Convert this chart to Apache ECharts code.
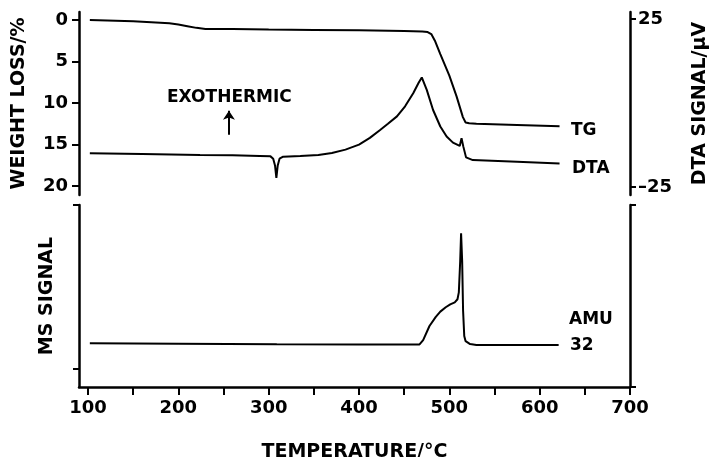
<!DOCTYPE html>
<html>
<head>
<meta charset="utf-8">
<script src="https://cdn.jsdelivr.net/npm/echarts@6/dist/echarts.min.js"></script>
<style>html,body{margin:0;padding:0;background:#fff}#c{width:712px;height:457px}</style>
</head>
<body>
<div id="c"></div>
<script>
// ---- data ----
const tgTemp = [102,150,190,200,210,220,230,260,300,350,400,450,470,476,480,484,490,500,508,515,518,522,530,575,622];
const tgLoss = [0,0.15,0.4,0.55,0.75,0.95,1.08,1.1,1.15,1.2,1.25,1.32,1.38,1.45,1.7,2.5,4.1,6.7,9.2,11.7,12.35,12.45,12.5,12.65,12.8];

const dtaTemp = [102,160,224,260,290,302,305,307,308.5,310,312,316,335,355,370,385,400,412,423,432,442,451,460,466,469.5,475,482,490,497,504,511.5,513.5,515.5,518.5,526,575,622];
const dtaSignal = [-15.0,-15.2,-15.5,-15.6,-15.8,-15.9,-16.6,-18.6,-22.3,-18.6,-16.6,-16.0,-15.8,-15.5,-14.9,-13.9,-12.4,-10.4,-8.1,-6.2,-4.0,-1.0,2.9,6.0,7.6,3.9,-2.1,-7.0,-10.0,-11.8,-12.8,-10.5,-13.0,-16.2,-17.0,-17.5,-18.0];

const msTemp = [102,200,309,400,467,471,478,485,490,496,501,506,509,510.5,512,513,514.2,515.2,516.5,518,523,530,575,621];
const msSignal = [24.0,23.8,23.5,23.4,23.4,25.8,33.5,38.5,41.4,43.8,45.4,46.5,48.2,52,69,84.4,69,42,28,25.2,23.6,23.1,23.1,23.1];

const xTickValues = [100,150,200,250,300,350,400,450,500,550,600,650,700];
const xLabelValues = [100,200,300,400,500,600,700];
const tgTickValues = [0,5,10,15,20];
const dtaTickValues = [25,-25];
const msTickValues = [10,100];

const pairs = (xs, ys) => xs.map((x, i) => [x, ys[i]]);

const FONT = 'DejaVu Sans';
const black = '#000';
const axisLineStyle = { color: black, width: 2.5 };
const tickLine = { color: black, width: 2 };
const labelStyle = { color: black, fontFamily: FONT, fontWeight: 'bold', fontSize: 18 };
const nameStyle = { color: black, fontFamily: FONT, fontWeight: 'bold', fontSize: 19 };
const annFont = 'bold 17px "DejaVu Sans"';

const chart = echarts.init(document.getElementById('c'), null, { renderer: 'canvas' });
chart.setOption({
  animation: false,
  backgroundColor: '#fff',
  grid: [
    { left: 79, width: 551, top: 12, height: 183, containLabel: false, outerBoundsMode: 'none' },
    { left: 79, width: 551, top: 205, height: 182, containLabel: false, outerBoundsMode: 'none' }
  ],
  xAxis: [
    { gridIndex: 0, type: 'value', min: 90, max: 700, show: false },
    {
      gridIndex: 1, type: 'value', min: 90, max: 700,
      axisLine: { lineStyle: axisLineStyle },
      axisTick: { customValues: xTickValues, length: 8, inside: false, lineStyle: tickLine },
      axisLabel: { customValues: xLabelValues, margin: 12, ...labelStyle },
      splitLine: { show: false },
      name: 'TEMPERATURE/°C', nameLocation: 'middle', nameGap: 56, nameTextStyle: nameStyle
    }
  ],
  yAxis: [
    {
      gridIndex: 0, type: 'value', position: 'left', inverse: true, min: -0.96, max: 21.08,
      axisLine: { show: true, lineStyle: axisLineStyle },
      axisTick: { show: true, customValues: tgTickValues, length: 7, lineStyle: tickLine },
      axisLabel: { customValues: tgTickValues, margin: 11, ...labelStyle },
      splitLine: { show: false },
      name: 'WEIGHT LOSS/%', nameLocation: 'middle', nameRotate: 90, nameGap: 50, nameTextStyle: nameStyle
    },
    {
      gridIndex: 0, type: 'value', position: 'right', min: -27.4, max: 27.08,
      axisLine: { show: true, lineStyle: axisLineStyle },
      axisTick: { show: true, customValues: dtaTickValues, length: 6, lineStyle: tickLine },
      axisLabel: { customValues: dtaTickValues, margin: 8, ...labelStyle,
        formatter: v => (v < 0 ? '\u2013' + Math.abs(v) : String(v)) },
      splitLine: { show: false },
      name: 'DTA SIGNAL/\u00b5V', nameLocation: 'middle', nameRotate: 90, nameGap: 61, nameTextStyle: nameStyle
    },
    {
      gridIndex: 1, type: 'value', position: 'left', min: 0, max: 100,
      axisLine: { show: true, lineStyle: axisLineStyle },
      axisTick: { show: true, customValues: msTickValues, length: 6, lineStyle: tickLine },
      axisLabel: { show: false },
      splitLine: { show: false },
      name: 'MS SIGNAL', nameLocation: 'middle', nameRotate: 90, nameGap: 22, nameTextStyle: nameStyle
    },
    {
      gridIndex: 1, type: 'value', position: 'right', min: 0, max: 100,
      axisLine: { show: true, lineStyle: axisLineStyle },
      axisTick: { show: true, customValues: [0, 100], length: 6, lineStyle: tickLine },
      axisLabel: { show: false },
      splitLine: { show: false }
    }
  ],
  series: [
    {
      name: 'TG', type: 'line', xAxisIndex: 0, yAxisIndex: 0, showSymbol: false,
      lineStyle: { color: black, width: 2 }, data: pairs(tgTemp, tgLoss)
    },
    {
      name: 'DTA', type: 'line', xAxisIndex: 0, yAxisIndex: 1, showSymbol: false,
      lineStyle: { color: black, width: 2 }, data: pairs(dtaTemp, dtaSignal),
      markLine: {
        silent: true, symbol: ['none', 'arrow'], symbolSize: 9,
        lineStyle: { color: black, width: 2, type: 'solid' }, label: { show: false },
        data: [[{ coord: [256, -9.5] }, { coord: [256, -2.3] }]]
      }
    },
    {
      name: 'AMU 32', type: 'line', xAxisIndex: 1, yAxisIndex: 2, showSymbol: false,
      lineStyle: { color: black, width: 2 }, data: pairs(msTemp, msSignal)
    }
  ],
  graphic: [
    { type: 'text', left: 167, top: 89, style: { text: 'EXOTHERMIC', fill: black, font: annFont } },
    { type: 'text', left: 571, top: 122, style: { text: 'TG', fill: black, font: annFont } },
    { type: 'text', left: 572, top: 160, style: { text: 'DTA', fill: black, font: annFont } },
    { type: 'text', left: 569, top: 311, style: { text: 'AMU', fill: black, font: annFont } },
    { type: 'text', left: 570, top: 337, style: { text: '32', fill: black, font: annFont } }
  ]
});
</script>
</body>
</html>
